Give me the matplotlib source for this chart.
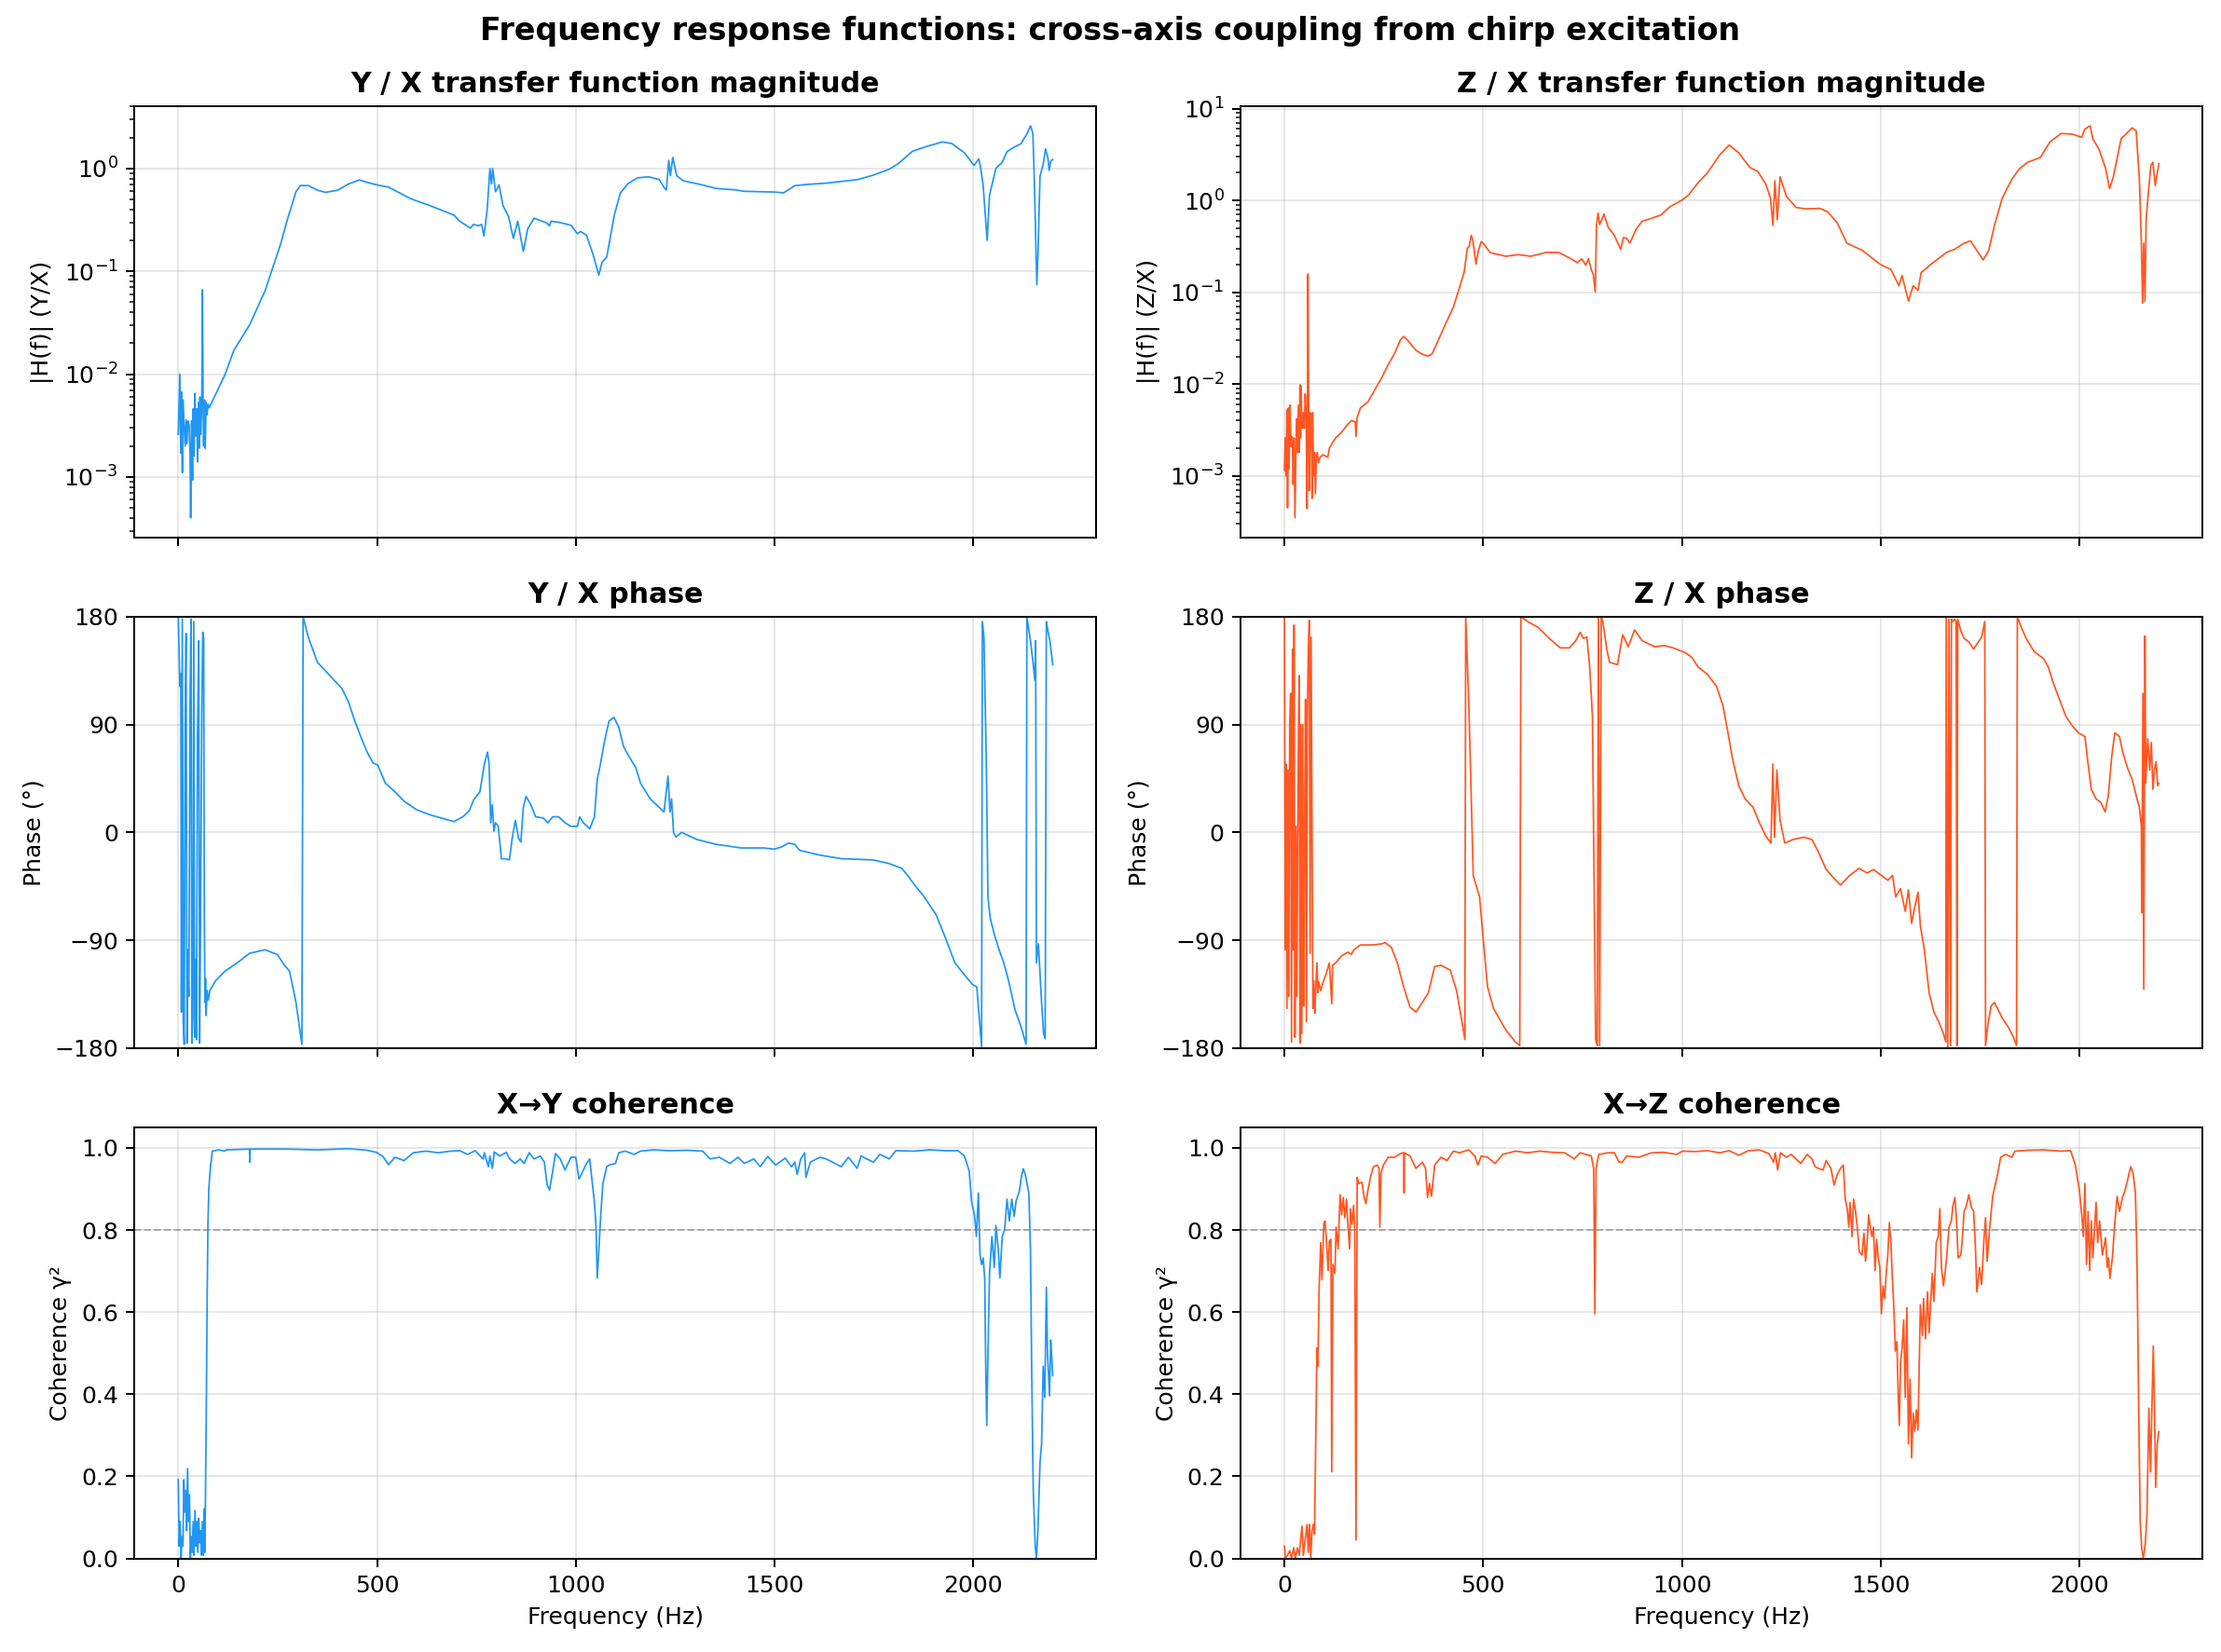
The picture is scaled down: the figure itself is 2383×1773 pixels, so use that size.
import numpy as np
import matplotlib
matplotlib.use("Agg")
import matplotlib.pyplot as plt

BLUE = "#2196F3"
ORANGE = "#FF5722"

# ---------------- Y/X magnitude ----------------
yx_mag_f = [0, 3.9, 6.2, 7.8, 10.1, 11.7, 14, 17.1, 19.5, 21.8,
            24.1, 27.2, 29.6, 31.1, 33.5, 35.8, 37.4, 39.7, 42, 43.6,
            46.7, 48.2, 50.6, 52.9, 54.5, 56.8, 59.1, 60.7, 62.3, 63.8,
            66.1, 67.7, 70, 72.4, 74.7, 77.8,
            117, 140, 179, 218, 257, 272, 296, 307, 327, 350,
            370, 401, 428, 455, 482, 500, 529, 584, 630, 693,
            708, 735, 743, 755, 763, 769, 777, 784, 788, 791,
            798, 807, 817, 831, 843, 854, 868, 879, 895, 926,
            934, 938, 957, 988, 1004, 1012, 1027, 1043, 1058, 1066,
            1078, 1097, 1112, 1131, 1155, 1183, 1210, 1224, 1228, 1234,
            1238, 1244, 1254, 1270, 1313, 1353, 1400, 1424, 1500, 1523,
            1551, 1582, 1630, 1709, 1748, 1788, 1812, 1847, 1883, 1922,
            1946, 1978, 2002, 2014, 2019, 2025, 2035, 2041, 2057, 2073,
            2085, 2104, 2120, 2136, 2144, 2150, 2153, 2160, 2163, 2168,
            2176, 2182, 2188, 2191, 2195, 2200]
yx_mag_v = [2.6e-3, 1.0e-2, 1.7e-3, 6.7e-3, 1.1e-3, 5.6e-3, 3.5e-3, 2.0e-3, 3.6e-3, 2.1e-3,
            3.5e-3, 3.2e-3, 1.7e-3, 4.0e-4, 3.5e-3, 9.3e-4, 4.6e-3, 1.6e-3, 6.5e-3, 2.5e-3,
            4.6e-3, 1.4e-3, 5.3e-3, 1.9e-3, 6.0e-3, 2.6e-3, 5.6e-3, 6.6e-2, 5.6e-3, 2.0e-3,
            5.6e-3, 1.9e-3, 5.3e-3, 4.0e-3, 5.1e-3, 4.7e-3,
            9.8e-3, 0.0171, 0.0299, 0.0642, 0.182, 0.296, 0.594, 0.682, 0.682, 0.615,
            0.586, 0.615, 0.706, 0.773, 0.721, 0.692, 0.659, 0.509, 0.440, 0.353,
            0.307, 0.263, 0.286, 0.277, 0.286, 0.221, 0.392, 1.0, 0.706, 1.0,
            0.594, 0.692, 0.434, 0.340, 0.209, 0.307, 0.156, 0.258, 0.329, 0.296,
            0.277, 0.307, 0.300, 0.280, 0.232, 0.244, 0.224, 0.148, 0.092, 0.122,
            0.138, 0.353, 0.575, 0.71, 0.81, 0.83, 0.78, 0.637, 0.62, 1.2,
            0.85, 1.28, 0.85, 0.76, 0.70, 0.64, 0.62, 0.60, 0.59, 0.58,
            0.68, 0.70, 0.72, 0.78, 0.86, 0.98, 1.12, 1.47, 1.64, 1.81,
            1.75, 1.42, 1.07, 1.24, 1.0, 0.68, 0.20, 0.55, 1.0, 1.15,
            1.46, 1.62, 1.74, 2.2, 2.6, 2.2, 0.97, 0.074, 0.15, 0.84,
            1.1, 1.55, 1.26, 0.96, 1.18, 1.22]

# ---------------- Z/X magnitude ----------------
zx_mag_f = [0, 2.3, 3.9, 6.2, 7.8, 10.1, 11.7, 14.0, 16.4, 17.9,
            20.3, 21.8, 24.2, 26.5, 28.8, 31.2, 32.7, 35.1, 37.4, 39.0,
            40.5, 42.1, 43.6, 45.2, 47.5, 49.9, 52.2, 54.6, 56.9, 59.2,
            60.8, 62.3, 64.7, 67.0, 69.4, 70.9, 73.3, 75.6, 77.9, 80.3,
            82.6, 85.7, 89.6, 97.4, 109, 113, 121, 129, 144, 156,
            168, 178, 180, 183, 191, 210, 230, 246, 261, 277,
            292, 300, 312, 331, 347, 362, 372, 386, 409, 425,
            440, 452, 460, 465, 470, 474, 482, 487, 495, 500,
            518, 557, 588, 620, 659, 690, 721, 737, 748, 758,
            765, 772, 777, 782, 785, 789, 793, 799, 804, 815,
            830, 846, 853, 861, 869, 885, 900, 924, 947, 970,
            999, 1017, 1041, 1064, 1095,
            1119, 1143, 1171, 1191, 1211, 1223, 1229, 1234, 1240, 1247,
            1263, 1287, 1311, 1347, 1367, 1391, 1415, 1454, 1500, 1526,
            1546, 1554, 1570, 1582, 1594, 1602, 1630, 1666, 1686, 1710,
            1726, 1742, 1758, 1772, 1786, 1806, 1830, 1850, 1870, 1902,
            1926, 1954, 1982, 2006, 2014, 2027, 2034, 2050, 2066, 2076,
            2085, 2105, 2133, 2143, 2151, 2156, 2159, 2162, 2165, 2168,
            2173, 2180, 2185, 2191, 2196, 2200]
zx_mag_v = [1.15e-3, 2.6e-3, 1.0e-3, 5.2e-3, 4.5e-4, 5.5e-3, 1.2e-3, 5.9e-3, 2.1e-3, 2.7e-3,
            2.1e-3, 8.1e-4, 2.6e-3, 3.5e-4, 1.8e-3, 4.2e-3, 1.8e-3, 5.9e-3, 1.8e-3, 9.8e-3,
            2.6e-3, 9.5e-3, 3.5e-3, 3.3e-3, 4.9e-3, 3.3e-3, 7.8e-3, 4.9e-3, 4.4e-4, 0.158,
            7.2e-3, 6.9e-4, 4.9e-3, 4.3e-3, 5.7e-4, 4.9e-3, 1.0e-3, 1.8e-3, 6.4e-4, 1.6e-3,
            1.8e-3, 1.4e-3, 1.6e-3, 1.7e-3, 1.6e-3, 2.0e-3, 2.3e-3, 2.6e-3, 3.0e-3, 3.5e-3,
            4.0e-3, 3.9e-3, 2.7e-3, 4.3e-3, 5.5e-3, 6.4e-3, 9.1e-3, 0.012, 0.0163, 0.0215,
            0.0305, 0.033, 0.0294, 0.0233, 0.0211, 0.0202, 0.0215, 0.0294, 0.049, 0.069,
            0.111, 0.164, 0.30, 0.318, 0.417, 0.37, 0.203, 0.272, 0.357, 0.343,
            0.27, 0.247, 0.257, 0.247, 0.272, 0.272, 0.232, 0.21, 0.232, 0.198,
            0.232, 0.177, 0.157, 0.101, 0.527, 0.73, 0.548, 0.626, 0.71, 0.507,
            0.417, 0.294, 0.395, 0.386, 0.343, 0.488, 0.593, 0.641, 0.693, 0.855,
            1.0, 1.15, 1.57, 1.99, 3.13,
            4.01, 3.3, 2.29, 2.07, 1.51, 1.06, 0.535, 1.64, 0.616, 1.81,
            1.11, 0.84, 0.81, 0.82, 0.75, 0.57, 0.343, 0.286, 0.2, 0.177,
            0.118, 0.152, 0.080, 0.118, 0.105, 0.164, 0.207, 0.272, 0.294, 0.343,
            0.363, 0.286, 0.225, 0.286, 0.527, 1.06, 1.70, 2.23, 2.61, 2.94,
            4.34, 5.36, 5.28, 4.88, 6.0, 6.5, 4.69, 3.57, 2.23, 1.35,
            1.77, 4.69, 6.17, 5.7, 1.70, 0.357, 0.076, 0.343, 0.080, 0.616,
            1.15, 2.42, 2.61, 1.45, 1.99, 2.51]

# ---------------- Y/X phase (deg) ----------------
yx_ph_f = [0, 3.9, 6.2, 7.8, 10.1, 12.5, 14.8, 17.1, 19.5, 21.8,
           23.3, 26.5, 29.6, 31.9, 34.2, 36.6, 38.9, 41.2, 43.6, 45.9,
           48.2, 51.4, 53.7, 56.0, 59.1, 61.5, 63.8, 65.4, 66.9, 68.5,
           70.0, 72.4, 75.5, 79.4, 93.4, 117, 148, 179, 218, 249,
           265, 280, 296, 311, 314, 327, 350, 381, 412, 428,
           444, 459, 475, 490, 502, 521, 545, 568, 599, 630,
           661, 693, 716, 732, 743, 759, 770, 778, 782, 786,
           790, 794, 798, 805, 813, 821, 833, 840, 848, 856,
           862, 868, 875, 887, 899, 918, 930, 942, 957, 973,
           988, 1004, 1010, 1019, 1035, 1047, 1054, 1062, 1070, 1078,
           1084, 1096, 1108, 1120, 1131, 1151, 1163, 1187, 1203, 1222,
           1232, 1237, 1241, 1246, 1252, 1266, 1305, 1353, 1416, 1472,
           1500, 1519, 1535, 1551, 1563, 1614, 1669, 1748, 1788, 1820,
           1835, 1855, 1875, 1907, 1930, 1954, 1978, 1998, 2009, 2021,
           2023, 2027, 2033, 2037, 2043, 2053, 2065, 2077, 2089, 2105,
           2121, 2133, 2135, 2144, 2151, 2155, 2157, 2159, 2164, 2172,
           2177, 2181, 2184, 2188, 2193, 2200]
yx_ph_v = [180, 122, 133, -150, 178, -158, -177, 88, 166, -176,
           -98, -137, 109, 178, -176, -155, 176, -171, -106, -173,
           78, 160, -176, -72, 101, 167, 162, -60, -142, -122,
           -153, -132, -140, -132, -124, -116, -109, -101, -98, -102,
           -110, -116, -142, -177, 180, 163, 142, 131, 120, 109,
           93, 80, 67, 58, 56, 41, 34, 26, 19, 15,
           12, 9, 13, 18, 27, 34, 57, 67, 57, 8,
           23, 1, 8, 5, -22, -22, -23, -5, 10, -5,
           -8, 21, 30, 23, 13, 12, 8, 13, 13, 8,
           5, 5, 13, 8, 3, 13, 44, 57, 72, 85,
           93, 96, 88, 72, 65, 54, 41, 28, 23, 17,
           47, 17, 28, 0, -4, 0, -6, -10, -13, -13,
           -14, -12, -9, -10, -15, -19, -22, -23, -26, -30,
           -36, -45, -53, -69, -88, -109, -119, -127, -129, -179,
           176, 163, 57, -54, -72, -85, -98, -109, -124, -148,
           -163, -177, 180, 160, 140, 127, 160, -109, -93, -142,
           -168, -172, 176, 168, 160, 140]

# ---------------- Z/X phase (deg) ----------------
zx_ph_f = [0, 2.3, 3.9, 6.2, 8.6, 10.9, 13.3, 15.6, 17.9, 20.3,
           22.6, 24.2, 26.5, 28.8, 31.2, 33.5, 35.9, 37.4, 39.0, 41.3,
           43.6, 46.0, 48.3, 50.7, 53.0, 55.3, 57.7, 60.0, 62.4, 64.7,
           67.0, 69.4, 71.7, 74.0, 76.4, 78.7, 81.8, 84.2, 86.5, 91.2,
           97.4, 105, 113, 119, 121, 129, 144, 160, 168, 175,
           191, 222, 246, 253, 269, 284, 300, 316, 331, 347,
           362, 378, 394, 417, 433, 444, 454, 456, 464, 475,
           491, 499, 511, 526, 557, 581, 592, 595, 612, 639,
           666, 694, 717, 733, 744, 752, 761, 768, 775, 783,
           787, 790, 793, 797, 801, 811, 818, 838, 851, 865,
           881, 900, 931, 955, 978, 1009, 1025, 1041, 1064, 1087,
           1103, 1115, 1127, 1143, 1159, 1179, 1195, 1211, 1224, 1229,
           1233, 1239, 1247, 1259, 1279, 1307, 1327, 1343, 1363, 1379,
           1399, 1422, 1446, 1466, 1482, 1502, 1518, 1530, 1538, 1550,
           1562, 1570, 1578, 1586, 1594, 1600, 1610, 1622, 1634, 1646,
           1658, 1664, 1665, 1669, 1672, 1676, 1678, 1682, 1686, 1690,
           1692, 1694, 1702, 1710, 1722, 1734, 1746, 1754, 1762, 1764,
           1770, 1778, 1786, 1794, 1806, 1822, 1834, 1842, 1844, 1854,
           1866, 1886, 1910, 1922, 1934, 1950, 1966, 1982, 1998, 2014,
           2022, 2030, 2042, 2054, 2065, 2073, 2081, 2089, 2101, 2109,
           2121, 2133, 2145, 2151, 2156, 2157, 2160, 2162, 2165, 2167,
           2172, 2177, 2181, 2185, 2189, 2193, 2197, 2200]
zx_ph_v = [180, -98, 57, -147, 52, -137, 90, 116, -175, 153,
           -98, 173, -171, 5, -137, 0, 106, 131, -176, 90,
           -168, 90, -145, 5, 111, -158, 98, 150, 177, -101,
           163, 5, -147, -124, -151, -132, -109, -134, -125, -132,
           -125, -118, -109, -143, -111, -109, -103, -100, -102, -98,
           -94, -94, -93, -92, -96, -109, -129, -146, -150, -142,
           -134, -112, -111, -115, -132, -153, -173, 180, 106, -36,
           -54, -85, -129, -147, -165, -175, -178, 180, 176, 171,
           162, 154, 154, 160, 167, 162, 163, 138, 96, -173,
           -178, 180, -178, 180, 176, 153, 142, 140, 165, 155,
           169, 160, 155, 156, 154, 150, 146, 138, 132, 122,
           106, 85, 62, 39, 28, 21, 8, -3, -9, 57,
           -4, 52, 10, -9, -6, -4, -6, -16, -31, -37,
           -44, -36, -30, -34, -31, -36, -40, -36, -54, -47,
           -66, -48, -76, -62, -50, -78, -98, -134, -150, -158,
           -168, -175, 179, -179, 178, -178, 178, 176, 178, 176,
           -178, 178, 168, 162, 159, 153, 159, 163, 176, -178,
           -160, -145, -142, -147, -155, -163, -171, -178, 180, 171,
           162, 151, 145, 138, 125, 111, 97, 89, 83, 80,
           57, 36, 28, 25, 17, 31, 62, 83, 80, 67,
           54, 44, 28, 21, 5, -67, 116, -131, 164, 41,
           78, 52, 75, 36, 52, 59, 39, 41]

# ---------------- X->Y coherence ----------------
yx_coh_f = [0, 2.3, 4.7, 7.0, 9.3, 11.7, 14.0, 16.3, 18.7, 21.0,
            23.3, 25.7, 28.0, 30.4, 32.7, 35.0, 37.4, 39.7, 42.0, 44.4,
            46.7, 49.0, 51.4, 53.7, 56.0, 58.4, 60.7, 63.0, 65.4, 66.9,
            70.0, 72.4, 74.7, 77.0, 80.9, 85.6, 101, 117, 121, 179,
            180, 181, 272, 350, 428, 475, 498, 514, 529, 545,
            568, 591, 623, 654, 685, 708, 728, 747, 767, 770,
            780, 784, 790, 795, 809, 825, 834, 847, 860, 870,
            883, 895, 911, 921, 928, 934, 942, 949, 961, 973,
            988, 1000, 1008, 1016, 1027, 1035, 1047, 1051, 1054, 1057,
            1062, 1068, 1078, 1084, 1100, 1108, 1124, 1147, 1163, 1195,
            1235, 1282, 1319, 1338, 1361, 1388, 1408, 1424, 1448, 1464,
            1483, 1503, 1527, 1543, 1551, 1557, 1566, 1576, 1579, 1590,
            1614, 1630, 1646, 1668, 1686, 1708, 1718, 1749, 1765, 1789,
            1805, 1851, 1891, 1930, 1962, 1978, 1990, 1996, 2003, 2008,
            2013, 2017, 2021, 2025, 2029, 2031, 2034, 2038, 2041, 2047,
            2053, 2057, 2063, 2067, 2073, 2079, 2085, 2091, 2097, 2103,
            2108, 2116, 2121, 2126, 2131, 2140, 2144, 2147, 2151, 2156,
            2159, 2163, 2168, 2172, 2176, 2180, 2184, 2187, 2192, 2195,
            2198, 2200]
yx_coh_v = [0.192, 0.03, 0.09, 0.0, 0.053, 0.03, 0.192, 0.113, 0.166, 0.068,
            0.219, 0.09, 0.155, 0.0, 0.053, 0.015, 0.09, 0.008, 0.117, 0.03,
            0.09, 0.015, 0.098, 0.038, 0.068, 0.008, 0.09, 0.008, 0.121, 0.015,
            0.317, 0.618, 0.822, 0.905, 0.954, 0.992, 0.995, 0.992, 0.995, 0.997,
            0.965, 0.997, 0.997, 0.995, 0.998, 0.994, 0.989, 0.98, 0.959, 0.977,
            0.969, 0.988, 0.992, 0.988, 0.992, 0.993, 0.984, 0.993, 0.973, 0.988,
            0.954, 0.98, 0.95, 0.99, 0.98, 0.989, 0.973, 0.962, 0.973, 0.962,
            0.988, 0.973, 0.98, 0.965, 0.909, 0.897, 0.943, 0.986, 0.973, 0.946,
            0.977, 0.977, 0.924, 0.939, 0.962, 0.973, 0.867, 0.807, 0.683, 0.732,
            0.822, 0.912, 0.954, 0.958, 0.962, 0.988, 0.992, 0.984, 0.992, 0.995,
            0.993, 0.994, 0.992, 0.973, 0.977, 0.962, 0.977, 0.962, 0.973, 0.954,
            0.979, 0.958, 0.975, 0.954, 0.965, 0.935, 0.973, 0.988, 0.928, 0.965,
            0.977, 0.973, 0.965, 0.954, 0.977, 0.95, 0.98, 0.965, 0.984, 0.973,
            0.993, 0.992, 0.995, 0.993, 0.993, 0.98, 0.943, 0.867, 0.837, 0.784,
            0.89, 0.739, 0.716, 0.732, 0.679, 0.498, 0.324, 0.551, 0.694, 0.784,
            0.709, 0.811, 0.754, 0.683, 0.784, 0.80, 0.875, 0.822, 0.875, 0.833,
            0.871, 0.894, 0.929, 0.949, 0.935, 0.89, 0.754, 0.468, 0.166, 0.03,
            0.0, 0.075, 0.234, 0.279, 0.468, 0.392, 0.66, 0.498, 0.396, 0.532,
            0.483, 0.445]

# ---------------- X->Z coherence ----------------
zx_coh_f = [0, 2.3, 7.8, 13.3, 17.9, 23.4, 27.3, 32.7, 37.4, 41.3,
            44.4, 47.5, 52.2, 56.9, 60.0, 63.1, 66.3, 69.4, 72.5, 75.6,
            78.7, 81.8, 84.2, 87.3, 91.2, 94.3, 99.0, 102, 105, 110,
            113, 117, 119, 122, 127, 130, 135, 140, 144, 148,
            152, 156, 160, 164, 166, 170, 174, 177, 180, 183,
            187, 195, 200, 205, 210, 217, 224, 234, 238, 240,
            243, 249, 261, 277, 292, 300, 301, 302, 316, 331,
            347, 355, 360, 365, 370, 378, 394, 409, 425, 440,
            464, 479, 487, 495, 511, 530, 549, 581, 612, 643,
            674, 705, 729, 744, 772, 778, 781, 784, 791, 815,
            830, 842, 850, 861, 892, 924, 955, 986, 1002, 1033,
            1064, 1095, 1119, 1143, 1167, 1195, 1219, 1231, 1235, 1241,
            1248, 1263, 1275, 1299, 1315, 1327, 1335, 1343, 1355, 1363,
            1375, 1383, 1391, 1399, 1406, 1411, 1416, 1420, 1423, 1428,
            1432, 1437, 1442, 1446, 1453, 1458, 1462, 1466, 1470, 1474,
            1478, 1482, 1486, 1490, 1494, 1498, 1502, 1506, 1510, 1514,
            1518, 1522, 1526, 1529, 1533, 1537, 1541, 1544, 1547, 1550,
            1554, 1558, 1562, 1566, 1570, 1574, 1578, 1582, 1586, 1590,
            1594, 1597, 1600, 1605, 1608, 1613, 1618, 1622, 1626, 1630,
            1634, 1640, 1645, 1649, 1653, 1658, 1662, 1666, 1672, 1678,
            1682, 1687, 1691, 1695, 1702, 1706, 1710, 1716, 1722, 1728,
            1734, 1739, 1742, 1749, 1754, 1760, 1764, 1768, 1774, 1782,
            1794, 1802, 1814, 1830, 1838, 1870, 1910, 1954, 1978, 1990,
            2000, 2006, 2010, 2014, 2018, 2022, 2026, 2030, 2034, 2042,
            2046, 2051, 2058, 2066, 2070, 2073, 2077, 2083, 2089, 2095,
            2101, 2109, 2113, 2121, 2129, 2135, 2141, 2145, 2149, 2153,
            2157, 2161, 2166, 2170, 2175, 2179, 2183, 2186, 2189, 2192,
            2196, 2200]
zx_coh_v = [0.03, 0.0, 0.008, 0.019, 0.0, 0.026, 0.0, 0.026, 0.008, 0.053,
            0.079, 0.008, 0.045, 0.083, 0.015, 0.083, 0.0, 0.068, 0.083, 0.06,
            0.287, 0.513, 0.468, 0.66, 0.769, 0.679, 0.814, 0.822, 0.784, 0.701,
            0.773, 0.777, 0.211, 0.716, 0.694, 0.807, 0.754, 0.886, 0.837, 0.879,
            0.83, 0.875, 0.807, 0.754, 0.852, 0.814, 0.86, 0.80, 0.045, 0.928,
            0.913, 0.916, 0.882, 0.864, 0.897, 0.931, 0.954, 0.958, 0.95, 0.807,
            0.939, 0.958, 0.977, 0.977, 0.986, 0.988, 0.89, 0.988, 0.98, 0.95,
            0.965, 0.95, 0.879, 0.913, 0.882, 0.958, 0.977, 0.969, 0.992, 0.988,
            0.995, 0.98, 0.958, 0.98, 0.977, 0.962, 0.984, 0.992, 0.988, 0.992,
            0.989, 0.988, 0.973, 0.988, 0.98, 0.95, 0.596, 0.95, 0.984, 0.988,
            0.988, 0.965, 0.965, 0.98, 0.977, 0.988, 0.989, 0.984, 0.992, 0.991,
            0.993, 0.988, 0.993, 0.982, 0.993, 0.995, 0.986, 0.965, 0.988, 0.946,
            0.988, 0.977, 0.984, 0.962, 0.984, 0.973, 0.954, 0.95, 0.946, 0.969,
            0.95, 0.909, 0.935, 0.95, 0.958, 0.875, 0.852, 0.807, 0.867, 0.784,
            0.875, 0.845, 0.80, 0.747, 0.739, 0.792, 0.724, 0.769, 0.837, 0.807,
            0.784, 0.807, 0.701, 0.777, 0.732, 0.709, 0.596, 0.664, 0.633, 0.694,
            0.739, 0.818, 0.769, 0.694, 0.618, 0.505, 0.528, 0.407, 0.324, 0.475,
            0.513, 0.581, 0.392, 0.611, 0.279, 0.437, 0.245, 0.354, 0.309, 0.362,
            0.313, 0.468, 0.618, 0.543, 0.633, 0.535, 0.649, 0.55, 0.626, 0.694,
            0.626, 0.769, 0.784, 0.852, 0.709, 0.664, 0.694, 0.732, 0.807, 0.822,
            0.86, 0.879, 0.822, 0.732, 0.739, 0.784, 0.845, 0.86, 0.886, 0.856,
            0.845, 0.747, 0.649, 0.709, 0.667, 0.777, 0.83, 0.724, 0.80, 0.882,
            0.935, 0.977, 0.984, 0.977, 0.992, 0.994, 0.995, 0.992, 0.993, 0.958,
            0.897, 0.837, 0.784, 0.913, 0.716, 0.845, 0.701, 0.822, 0.732, 0.867,
            0.769, 0.822, 0.739, 0.781, 0.709, 0.732, 0.682, 0.732, 0.814, 0.882,
            0.845, 0.882, 0.89, 0.92, 0.954, 0.939, 0.89, 0.732, 0.392, 0.09,
            0.023, 0.0, 0.038, 0.106, 0.366, 0.211, 0.392, 0.517, 0.37, 0.173,
            0.279, 0.309]

COH_THRESHOLD = 0.8

DPI = 180
fig, axes = plt.subplots(3, 2, figsize=(2383 / DPI, 1773 / DPI), dpi=DPI, sharex=True)
fig.subplots_adjust(left=0.0606, right=0.9917, top=0.9357, bottom=0.0566,
                    wspace=0.15, hspace=0.184)

lw = 0.7
tfs = 12

cols = [
    ("Y", BLUE, yx_mag_f, yx_mag_v, yx_ph_f, yx_ph_v, yx_coh_f, yx_coh_v),
    ("Z", ORANGE, zx_mag_f, zx_mag_v, zx_ph_f, zx_ph_v, zx_coh_f, zx_coh_v),
]

for c, (ax_name, color, mf, mv, pf, pv, cf, cv) in enumerate(cols):
    a0, a1, a2 = axes[0, c], axes[1, c], axes[2, c]

    a0.semilogy(mf, mv, color=color, lw=lw)
    a0.set_title(f"{ax_name} / X transfer function magnitude", fontweight="bold", fontsize=tfs)
    a0.set_ylabel(f"|H(f)| ({ax_name}/X)", fontsize=10)
    a0.grid(True, alpha=0.3)

    a1.plot(pf, pv, color=color, lw=lw)
    a1.set_title(f"{ax_name} / X phase", fontweight="bold", fontsize=tfs)
    a1.set_ylabel("Phase (°)", fontsize=10)
    a1.set_ylim(-180, 180)
    a1.set_yticks([-180, -90, 0, 90, 180])
    a1.grid(True, alpha=0.3)

    a2.plot(cf, cv, color=color, lw=lw)
    a2.axhline(COH_THRESHOLD, color="gray", ls="--", lw=0.8, alpha=0.6)
    a2.set_title(f"X→{ax_name} coherence", fontweight="bold", fontsize=tfs)
    a2.set_ylabel("Coherence γ²", fontsize=10)
    a2.set_xlabel("Frequency (Hz)", fontsize=10)
    a2.set_ylim(0, 1.05)
    a2.grid(True, alpha=0.3)

fig.suptitle("Frequency response functions: cross-axis coupling from chirp excitation",
             fontweight="bold", fontsize=13.3, y=0.981, va="center")

fig.savefig("out.png", dpi=DPI)
